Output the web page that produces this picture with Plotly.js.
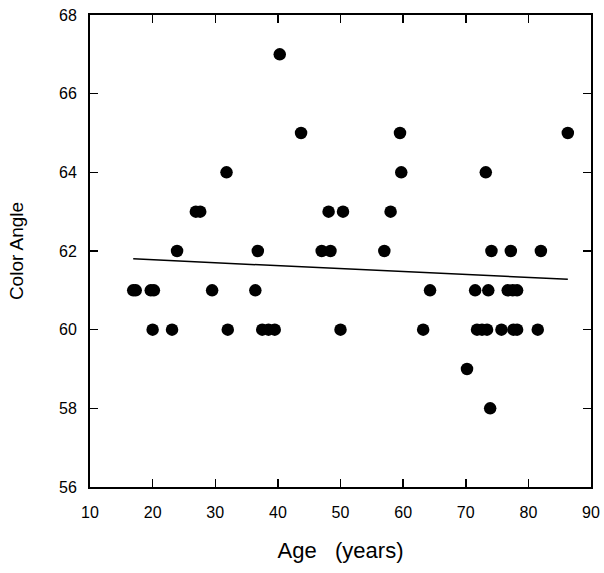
<!DOCTYPE html>
<html>
<head>
<meta charset="utf-8">
<script src="https://cdn.plot.ly/plotly-3.0.1.min.js"></script>
<style>html,body{margin:0;padding:0;background:#fff;}#chart{width:604px;height:573px;}</style>
</head>
<body>
<div id="chart"></div>
<script>
// Age (years) and Color Angle for each subject
const ages = [
  16.9, 17.3, 19.7, 20.2, 29.5, 36.4, 64.3, 71.5, 73.6, 76.7, 77.5, 78.2,
  20.0, 23.1, 32.0, 37.5, 38.5, 39.5, 50.0, 63.2, 71.8, 72.6, 73.4, 75.7, 77.6, 78.2, 81.5,
  23.9, 36.8, 47.0, 48.4, 57.0, 74.1, 77.2, 82.0,
  26.9, 27.6, 48.1, 50.4, 58.0,
  31.8, 59.7, 73.2,
  43.7, 59.5, 86.3,
  40.3,
  70.2,
  73.9
];
const colorAngles = [
  61, 61, 61, 61, 61, 61, 61, 61, 61, 61, 61, 61,
  60, 60, 60, 60, 60, 60, 60, 60, 60, 60, 60, 60, 60, 60, 60,
  62, 62, 62, 62, 62, 62, 62, 62,
  63, 63, 63, 63, 63,
  64, 64, 64,
  65, 65, 65,
  67,
  59,
  58
];
// regression line end points
const fitX = [16.9, 86.3];
const fitY = [61.80, 61.28];

const xTicks = [10, 20, 30, 40, 50, 60, 70, 80, 90];
const yTicks = [56, 58, 60, 62, 64, 66, 68];

const fontFam = '"Liberation Sans", Arial, Helvetica, sans-serif';

const data = [
  {
    x: fitX, y: fitY, type: 'scatter', mode: 'lines',
    line: {color: '#000', width: 1.5}, hoverinfo: 'skip'
  },
  {
    x: ages, y: colorAngles, type: 'scatter', mode: 'markers',
    marker: {color: '#000', size: 12.5, line: {width: 0}}
  }
];

const layout = {
  width: 604, height: 573,
  margin: {l: 90, r: 13, t: 15, b: 86},
  paper_bgcolor: '#fff', plot_bgcolor: '#fff',
  showlegend: false,
  font: {family: fontFam, color: '#000', size: 16},
  xaxis: {
    range: [10, 90], tickvals: xTicks, ticktext: xTicks.map(String),
    ticks: 'inside', ticklen: 8, tickwidth: 1.5, tickcolor: '#000',
    showline: true, linecolor: '#000', linewidth: 2, mirror: 'ticks',
    showgrid: false, zeroline: false,
    ticklabelstandoff: 10,
    tickfont: {family: fontFam, size: 16, color: '#000'},
    title: {text: 'Age&nbsp;&nbsp;&nbsp;(years)', font: {family: fontFam, size: 22, color: '#000'}, standoff: 22}
  },
  yaxis: {
    range: [56, 68], tickvals: yTicks, ticktext: yTicks.map(String),
    ticks: 'inside', ticklen: 8, tickwidth: 1.5, tickcolor: '#000',
    showline: true, linecolor: '#000', linewidth: 2, mirror: 'ticks',
    showgrid: false, zeroline: false,
    ticklabelstandoff: 8,
    tickfont: {family: fontFam, size: 16, color: '#000'},
    title: {text: 'Color Angle', font: {family: fontFam, size: 19, color: '#000'}, standoff: 30}
  }
};

Plotly.newPlot('chart', data, layout, {displayModeBar: false, staticPlot: true});
</script>
</body>
</html>
